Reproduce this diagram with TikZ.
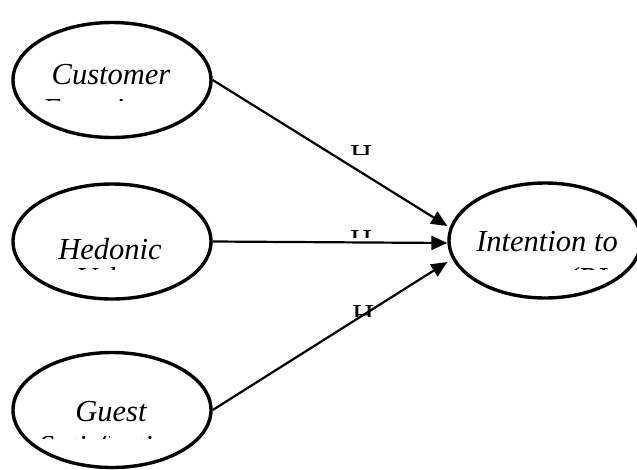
\documentclass[tikz,border=0pt]{standalone}
\usepackage{fontspec}
\setmainfont{Liberation Serif}
\usetikzlibrary{shapes.geometric}
\usetikzlibrary{arrows.meta}

\tikzset{
    construct/.style={draw, ellipse, line width=3.4pt, minimum width=198pt, minimum height=115pt, inner sep=0pt},
    link/.style={line width=2.2pt, -{Triangle[length=16pt,width=14pt]}},
    word/.style={font=\fontsize{30.5}{36}\selectfont\itshape, inner sep=0pt, anchor=base},
    hyp/.style={font=\fontsize{30.5}{36}\selectfont, inner sep=0pt, anchor=base west}
}

\begin{document}
\begin{tikzpicture}[x=1pt,y=-1pt]
    \useasboundingbox (0,0) rectangle (637,469);

        % Define the four constructs
        \node[construct] (cust) at (112,80) {};
        \node[construct] (hed) at (112,241.5) {};
        \node[construct] (guest) at (112,410) {};
        \node[construct, minimum width=192pt] (intent) at (545,240.5) {};

        % Label the constructs
        \node[word] (custtxt) at (111,84) {Customer};
        \node[word] (hedtxt) at (110,259) {Hedonic};
        \node[word] (guesttxt) at (111,421) {Guest};
        \node[word] (inttxt) at (547,251) {Intention to};

        % Second lines, cut off by their boxes
        \begin{scope}
            \clip (0,98) rectangle (220,100.5);
            \node[word] (custtxt2) at (111,119) {Experience};
        \end{scope}
        \begin{scope}
            \clip (0,267) rectangle (220,269.5);
            \node[word] (hedtxt2) at (111,288) {Value};
        \end{scope}
        \begin{scope}
            \clip (0,436) rectangle (220,438.5);
            \node[word] (guesttxt2) at (111,456) {Satisfaction};
        \end{scope}
        \begin{scope}
            \clip (572,267) rectangle (608,269.5);
            \node[word] (inttxt2) at (547,288) {Revisit (RI)};
        \end{scope}

        % Paths
        \draw[link] (cust.east) -- ([yshift=14.5pt]intent.west);
        \draw[link] (hed.east) -- ([yshift=-2.5pt]intent.west);
        \draw[link] (guest.east) -- ([yshift=-21.5pt]intent.west);

        % Hypothesis labels, cut off
        \begin{scope}
            \clip (348,143) rectangle (371,154);
            \node[hyp] (h1) at (350,165) {H1};
        \end{scope}
        \begin{scope}
            \clip (348,228) rectangle (371,237);
            \node[hyp] (h2) at (350,250) {H2};
        \end{scope}
        \begin{scope}
            \clip (350,303) rectangle (373,316);
            \node[hyp] (h3) at (352,325) {H3};
        \end{scope}

\end{tikzpicture}
\end{document}
